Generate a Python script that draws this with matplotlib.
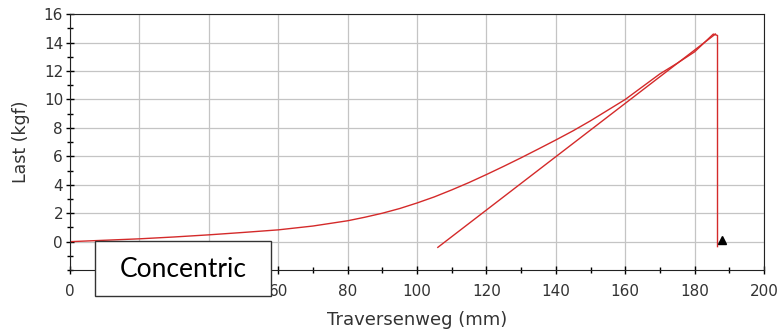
import matplotlib
matplotlib.use('Agg')
from matplotlib import pyplot as plt
from matplotlib.patches import Rectangle
from matplotlib.ticker import MultipleLocator

# load curve (traverse path in mm, load in kgf)
curve_x = [0, 10, 20, 30, 40, 50, 60, 70, 80, 85, 90, 95, 100, 105, 110,
           115, 120, 125, 130, 135, 140, 145, 150, 155, 160, 165, 170, 175,
           180, 185.4, 186.6, 186.6]
curve_y = [0.0, 0.1, 0.2, 0.33, 0.48, 0.65, 0.83, 1.1, 1.47, 1.72, 2.0,
           2.33, 2.72, 3.15, 3.64, 4.16, 4.72, 5.3, 5.9, 6.52, 7.15, 7.8,
           8.5, 9.25, 10.0, 10.9, 11.8, 12.55, 13.35, 14.6, 14.5, -0.35]

# straight reference line
line_x = [106, 186.0]
line_y = [-0.4, 14.6]

# break marker
marker_x = [187.8]
marker_y = [0.12]

x_ticks = list(range(0, 201, 20))
# 20 and 40 sit under the label box
x_ticklabels = ['0', '', '', '60', '80', '100', '120', '140', '160', '180', '200']
y_ticks = list(range(0, 17, 2))

box_text = 'Concentric'

fig = plt.figure(figsize=(7.84, 3.29), dpi=100)
ax = fig.add_axes([0.0893, 0.179, 0.8852, 0.778])

ax.plot(curve_x, curve_y, color='#d42a2a', lw=1.0)
ax.plot(line_x, line_y, color='#d42a2a', lw=1.0)
ax.plot(marker_x, marker_y, marker='^', color='black', ms=6, ls='none')

ax.set_xlim(0, 200)
ax.set_ylim(-2, 16)
ax.set_xticks(x_ticks)
ax.set_xticklabels(x_ticklabels)
ax.set_yticks(y_ticks)
ax.xaxis.set_minor_locator(MultipleLocator(10))
ax.yaxis.set_minor_locator(MultipleLocator(1))
ax.grid(True, which='major', color='#c4c4c4', lw=0.9)
ax.set_axisbelow(True)
ax.tick_params(which='major', direction='inout', length=6, width=1, pad=2,
               labelsize=11, labelcolor='#333333')
ax.tick_params(axis='x', which='major', pad=7)
ax.tick_params(which='minor', direction='inout', length=4, width=1)
for s in ax.spines.values():
    s.set_color('#222222')

ax.set_xlabel('Traversenweg (mm)', fontsize=13, color='#333333', labelpad=9)
ax.set_ylabel('Last (kgf)', fontsize=12.5, color='#333333', labelpad=10)

# label box laid over the axis
fig.patches.append(Rectangle((0.1212, 0.1003), 0.2245, 0.1672,
                             transform=fig.transFigure, facecolor='white',
                             edgecolor='#333333', lw=1.0, zorder=10))
fig.text(0.2334, 0.181, box_text, family='Lato', fontsize=19,
         ha='center', va='center', color='black', zorder=11)

plt.savefig('out.png', dpi=100)
